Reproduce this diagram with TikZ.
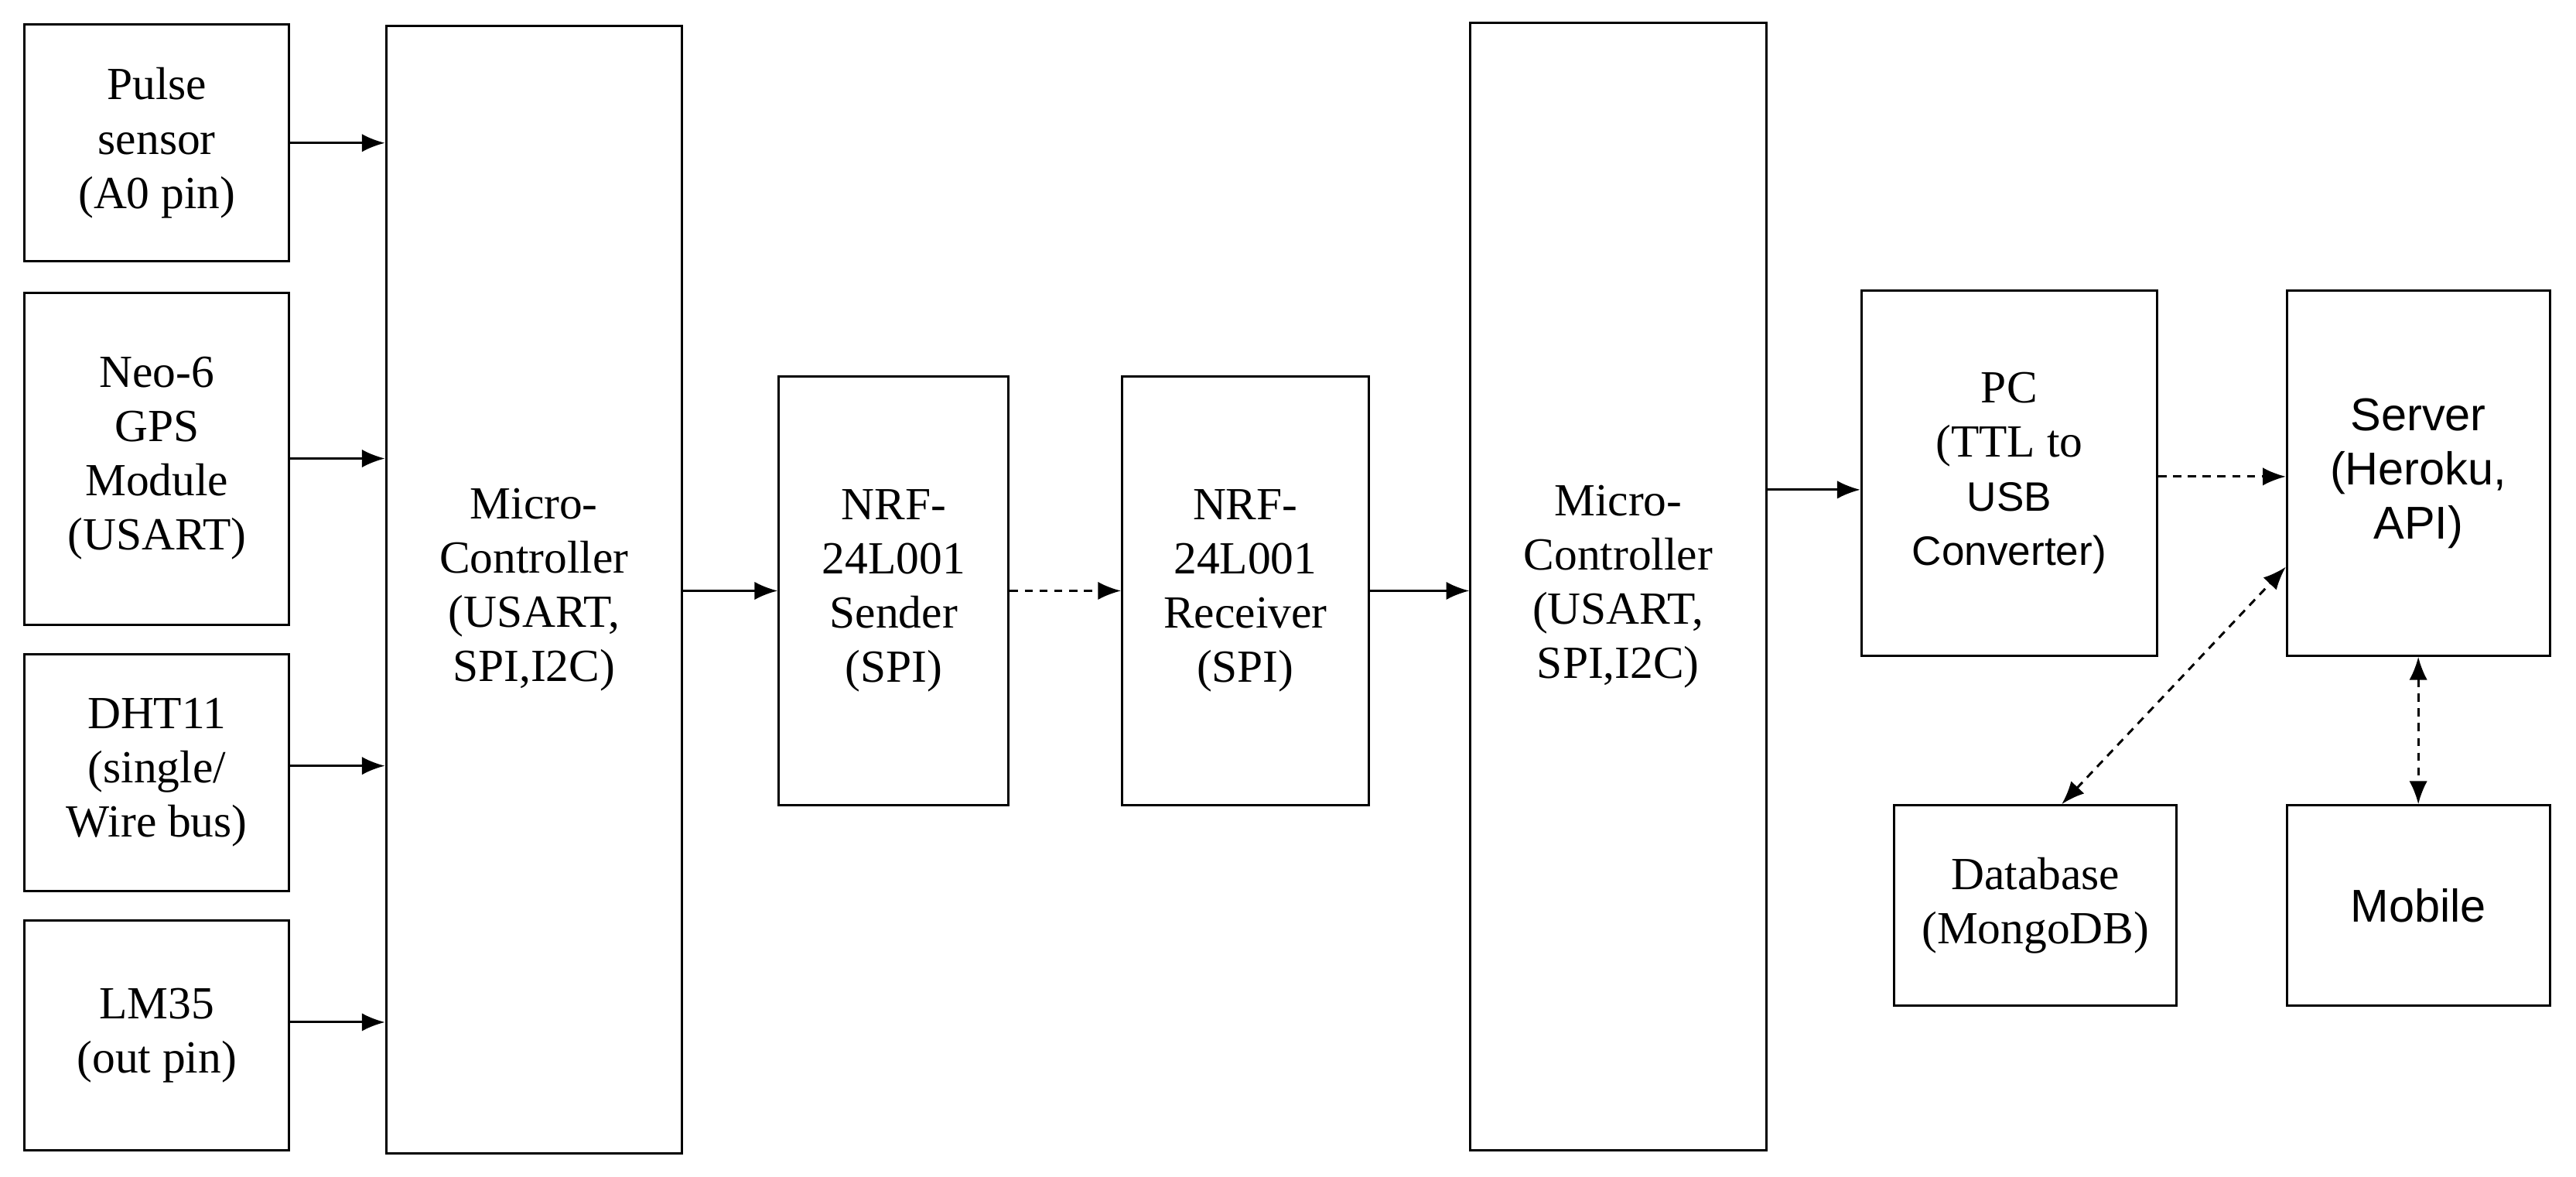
\documentclass[tikz,border=0pt]{standalone}
\usepackage{fontspec}
\setmainfont{Liberation Serif}
\newfontfamily\arialf{Liberation Sans}
\usetikzlibrary{arrows.meta}
\begin{document}
\begin{tikzpicture}[x=0.5pt,y=-0.5pt,
  box/.style={draw,line width=0.7pt,align=center,font=\fontsize{14}{16.5}\selectfont,inner sep=1pt},
  conn/.style={-{Latex[length=7pt,width=5.5pt]},line width=0.7pt},
  dconn/.style={conn,dashed,dash pattern=on 2.5pt off 2pt},
  ddconn/.style={{Latex[length=7pt,width=5.5pt]}-{Latex[length=7pt,width=5.5pt]},line width=0.7pt,dash pattern=on 2.5pt off 2pt}]
\useasboundingbox[fill=white] (0,0) rectangle (1568,716);
\node[box,minimum width=80.5pt,minimum height=72pt] (pulse) at (95.5,87) {Pulse\\sensor\\(A0 pin)};
\node[box,minimum width=80.5pt,minimum height=101pt] (neo) at (95.5,279) {Neo-6\\GPS\\Module\\(USART)};
\node[box,minimum width=80.5pt,minimum height=72pt] (dht) at (95.5,470) {DHT11\\(single/\\Wire bus)};
\node[box,minimum width=80.5pt,minimum height=70pt] (lm) at (95.5,630) {LM35\\(out pin)};
\node[box,minimum width=90pt,minimum height=343pt] (mca) at (325,359) {Micro-\\Controller\\(USART,\\SPI,I2C)};
\node[box,minimum width=70pt,minimum height=130.5pt] (snd) at (544,359.5) {NRF-\\24L001\\Sender\\(SPI)};
\node[box,minimum width=75pt,minimum height=130.5pt] (rcv) at (758,359.5) {NRF-\\24L001\\Receiver\\(SPI)};
\node[box,minimum width=90pt,minimum height=343pt] (mcb) at (985,357) {Micro-\\Controller\\(USART,\\SPI,I2C)};
\node[box,minimum width=90pt,minimum height=111pt,font=\arialf\fontsize{12.5}{16.5}\selectfont] (pc) at (1223,288) {\rmfamily\fontsize{14}{16.5}\selectfont PC\\\rmfamily\fontsize{14}{16.5}\selectfont (TTL to\\USB\\Converter)};
\node[box,minimum width=80pt,minimum height=111pt,font=\arialf\fontsize{14}{16.5}\selectfont] (srv) at (1472,288) {Server\\(Heroku,\\API)};
\node[box,minimum width=86pt,minimum height=61pt] (db) at (1239,551) {Database\\(MongoDB)};
\node[box,minimum width=80pt,minimum height=61pt,font=\arialf\fontsize{14}{16.5}\selectfont] (mob) at (1472,551) {Mobile};
\draw[conn] (pulse) -- (pulse -| mca.west);
\draw[conn] (neo) -- (neo -| mca.west);
\draw[conn] ([yshift=2pt]dht.east) -- ([yshift=2pt]dht -| mca.west);
\draw[conn] ([yshift=4pt]lm.east) -- ([yshift=4pt]lm -| mca.west);
\draw[conn] (mca.east |- snd) -- (snd);
\draw[dconn] (snd) -- (rcv);
\draw[conn] (rcv) -- (rcv -| mcb.west);
\draw[conn] ([yshift=-5pt]pc -| mcb.east) -- ([yshift=-5pt]pc.west);
\draw[dconn] ([yshift=-1pt]pc.east) -- ([yshift=-1pt]srv.west);
\draw[ddconn] ([xshift=8pt]db.north) -- ([yshift=-28.5pt]srv.west);
\draw[ddconn] (srv) -- (mob);
\end{tikzpicture}
\end{document}
